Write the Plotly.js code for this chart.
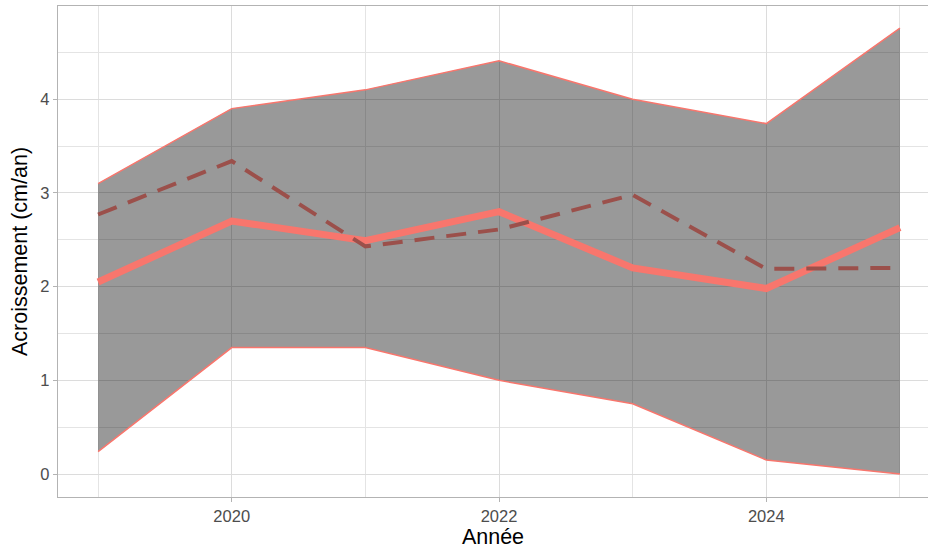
<!DOCTYPE html>
<html>
<head>
<meta charset="utf-8">
<script src="https://cdn.plot.ly/plotly-3.0.1.min.js"></script>
<style>html,body{margin:0;padding:0;background:#fff;}#chart{width:928px;height:550px;}</style>
</head>
<body>
<div id="chart"></div>
<script>
const years = [2019, 2020, 2021, 2022, 2023, 2024, 2025];
const upper = [3.10, 3.90, 4.10, 4.41, 4.00, 3.74, 4.76];
const lower = [0.24, 1.35, 1.35, 1.00, 0.75, 0.15, 0.00];
const meanVals = [2.05, 2.70, 2.49, 2.80, 2.20, 1.98, 2.63];
const refVals = [2.77, 3.34, 2.43, 2.61, 2.98, 2.19, 2.20];
const xTicks = [2020, 2022, 2024];
const yTicks = [0, 1, 2, 3, 4];

const salmon = '#F8766D';
const traces = [
  {x: years, y: lower, type: 'scatter', mode: 'lines', line: {color: salmon, width: 1.5}, hoverinfo: 'skip', showlegend: false},
  {x: years, y: upper, type: 'scatter', mode: 'lines', fill: 'tonexty', fillcolor: 'rgba(0,0,0,0.4)', line: {color: salmon, width: 1.5}, showlegend: false},
  {x: years, y: meanVals, type: 'scatter', mode: 'lines', line: {color: salmon, width: 7}, showlegend: false},
  {x: years, y: refVals, type: 'scatter', mode: 'lines', line: {color: 'rgb(155,80,75)', width: 4, dash: '20px,12px'}, showlegend: false}
];

const layout = {
  width: 928, height: 550,
  margin: {l: 58, r: 0, t: 6, b: 53},
  paper_bgcolor: '#fff', plot_bgcolor: '#fff',
  showlegend: false,
  font: {family: 'Liberation Sans, Arial, sans-serif'},
  xaxis: {
    range: [2018.70, 2025.21],
    tickvals: xTicks, ticktext: xTicks.map(String),
    showgrid: true, gridcolor: '#dcdcdc', gridwidth: 1,
    minor: {dtick: 1, tick0: 2019, showgrid: true, gridcolor: '#e4e4e4', gridwidth: 1},
    ticks: 'outside', ticklen: 4, tickcolor: '#b3b3b3', tickwidth: 1,
    showline: true, mirror: true, linecolor: '#b3b3b3', linewidth: 1.2,
    zeroline: false,
    tickfont: {size: 16.5, color: '#4d4d4d'},
    title: {text: 'Année', font: {size: 21.5, color: '#000'}, standoff: 2}
  },
  yaxis: {
    range: [-0.245, 4.995],
    tickvals: yTicks, ticktext: yTicks.map(String),
    showgrid: true, gridcolor: '#dcdcdc', gridwidth: 1,
    minor: {dtick: 0.5, tick0: 0, showgrid: true, gridcolor: '#e4e4e4', gridwidth: 1},
    ticks: 'outside', ticklen: 4, tickcolor: '#b3b3b3', tickwidth: 1,
    showline: true, mirror: false, linecolor: '#b3b3b3', linewidth: 1.2,
    zeroline: false,
    tickfont: {size: 16.5, color: '#4d4d4d'},
    title: {text: 'Acroissement (cm/an)', font: {size: 21.5, color: '#000'}, standoff: 6}
  }
};

Plotly.newPlot('chart', traces, layout, {displayModeBar: false, staticPlot: true});
</script>
</body>
</html>
